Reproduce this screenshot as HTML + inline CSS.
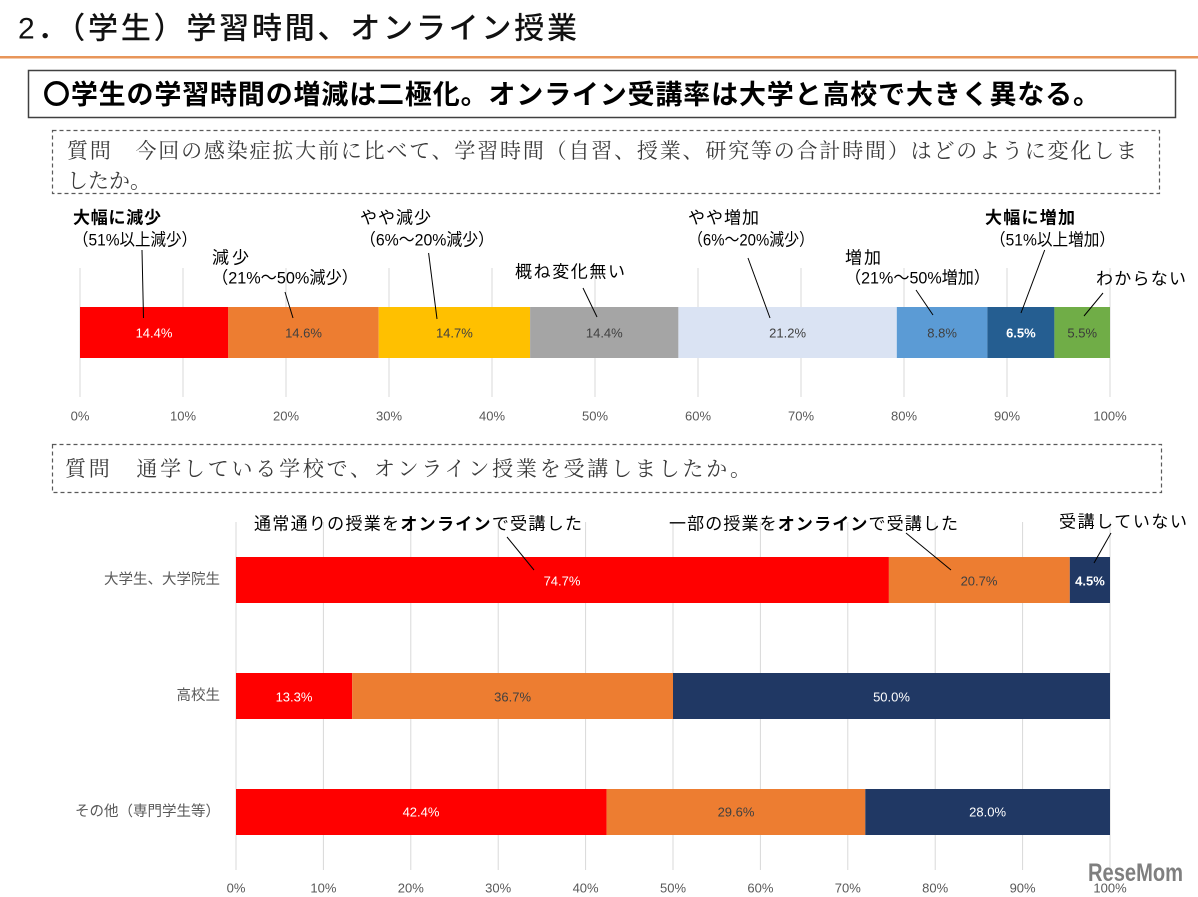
<!DOCTYPE html>
<html><head><meta charset="utf-8"><style>
html,body{margin:0;padding:0;background:#fff;}
svg{display:block;}
.s{font-family:"Liberation Sans","Noto Sans CJK JP",sans-serif;}
.m{font-family:"Liberation Serif","Noto Serif CJK SC",serif;}
</style></head><body>
<svg width="1198" height="897" viewBox="0 0 1198 897" xmlns="http://www.w3.org/2000/svg">
<rect x="0" y="0" width="1198" height="897" fill="#fff"/>
<!-- Title -->
<text class="s" x="18" y="29" font-size="30" font-weight="500" dominant-baseline="central" fill="#111" textLength="559">2．（学生）学習時間、オンライン授業</text>
<rect x="0" y="56" width="1198" height="2.5" fill="#E8965A"/>
<!-- Statement box -->
<rect x="28.5" y="70.5" width="1147" height="47" fill="none" stroke="#404040" stroke-width="1.5"/>
<text class="s" x="43" y="95" font-size="27" font-weight="bold" dominant-baseline="central" fill="#000" textLength="1057">〇学生の学習時間の増減は二極化。オンライン受講率は大学と高校で大きく異なる。</text>
<!-- Q1 dashed box -->
<rect x="52.5" y="130.5" width="1107" height="63" fill="none" stroke="#595959" stroke-width="1.2" stroke-dasharray="4,3"/>
<text class="m" x="67" y="151" font-size="21" dominant-baseline="central" fill="#3a3a3a" textLength="1070">質問　今回の感染症拡大前に比べて、学習時間（自習、授業、研究等の合計時間）はどのように変化しま</text>
<text class="m" x="67" y="181" font-size="21" dominant-baseline="central" fill="#3a3a3a">したか。</text>

<!-- Chart 1 gridlines -->
<g stroke="#D9D9D9" stroke-width="1">
<line x1="80" y1="268" x2="80" y2="397"/><line x1="183" y1="268" x2="183" y2="397"/><line x1="286" y1="268" x2="286" y2="397"/><line x1="389" y1="268" x2="389" y2="397"/><line x1="492" y1="268" x2="492" y2="397"/><line x1="595" y1="268" x2="595" y2="397"/><line x1="698" y1="268" x2="698" y2="397"/><line x1="801" y1="268" x2="801" y2="397"/><line x1="904" y1="268" x2="904" y2="397"/><line x1="1007" y1="268" x2="1007" y2="397"/><line x1="1110" y1="268" x2="1110" y2="397"/>
</g>
<!-- Chart 1 bars -->
<rect x="80" y="307" width="148.3" height="51" fill="#FF0000"/>
<rect x="228.3" y="307" width="150.4" height="51" fill="#ED7D31"/>
<rect x="378.7" y="307" width="151.4" height="51" fill="#FFC000"/>
<rect x="530.1" y="307" width="148.3" height="51" fill="#A5A5A5"/>
<rect x="678.4" y="307" width="218.4" height="51" fill="#DAE3F3"/>
<rect x="896.8" y="307" width="90.6" height="51" fill="#5B9BD5"/>
<rect x="987.4" y="307" width="67" height="51" fill="#255E91"/>
<rect x="1054.4" y="307" width="55.6" height="51" fill="#70AD47"/>
<g class="s" font-size="13" text-anchor="middle" dominant-baseline="central">
<text x="154" y="333" fill="#fff">14.4%</text>
<text x="303.5" y="333" fill="#404040">14.6%</text>
<text x="454.4" y="333" fill="#404040">14.7%</text>
<text x="604.3" y="333" fill="#404040">14.4%</text>
<text x="787.6" y="333" fill="#404040">21.2%</text>
<text x="942.1" y="333" fill="#404040">8.8%</text>
<text x="1020.9" y="333" fill="#fff" font-weight="bold">6.5%</text>
<text x="1082.2" y="333" fill="#3a3a3a">5.5%</text>
</g>
<!-- Chart 1 ticks -->
<g class="s" font-size="13" text-anchor="middle" dominant-baseline="central" fill="#595959">
<text x="80" y="416">0%</text><text x="183" y="416">10%</text><text x="286" y="416">20%</text><text x="389" y="416">30%</text><text x="492" y="416">40%</text><text x="595" y="416">50%</text><text x="698" y="416">60%</text><text x="801" y="416">70%</text><text x="904" y="416">80%</text><text x="1007" y="416">90%</text><text x="1110" y="416">100%</text>
</g>
<!-- Chart 1 leader lines -->
<g stroke="#000" stroke-width="1">
<line x1="142" y1="250" x2="143.5" y2="318"/>
<line x1="285" y1="292" x2="293" y2="318"/>
<line x1="428.6" y1="253" x2="437" y2="319"/>
<line x1="583" y1="288" x2="597" y2="317"/>
<line x1="748" y1="258" x2="770" y2="318"/>
<line x1="916" y1="290" x2="933" y2="315"/>
<line x1="1044.7" y1="250" x2="1021" y2="313"/>
<line x1="1103" y1="293" x2="1084" y2="316"/>
</g>
<!-- Chart 1 annotations -->
<g class="s" font-size="17" dominant-baseline="central" fill="#000">
<text x="73" y="218" font-weight="bold" textLength="88">大幅に減少</text>
<text x="73" y="240" textLength="124" lengthAdjust="spacingAndGlyphs">（51%以上減少）</text>
<text x="212" y="258" textLength="37">減少</text>
<text x="212" y="278" textLength="146" lengthAdjust="spacingAndGlyphs">（21%～50%減少）</text>
<text x="360" y="218" textLength="71">やや減少</text>
<text x="360" y="240" textLength="134" lengthAdjust="spacingAndGlyphs">（6%～20%減少）</text>
<text x="515" y="272" textLength="110">概ね変化無い</text>
<text x="688" y="218" textLength="71">やや増加</text>
<text x="688" y="240" textLength="126" lengthAdjust="spacingAndGlyphs">（6%～20%減少）</text>
<text x="845" y="258" textLength="36">増加</text>
<text x="845" y="278" textLength="145" lengthAdjust="spacingAndGlyphs">（21%～50%増加）</text>
<text x="985" y="218" font-weight="bold" textLength="90">大幅に増加</text>
<text x="990" y="240" textLength="125" lengthAdjust="spacingAndGlyphs">（51%以上増加）</text>
<text x="1096" y="279" textLength="90">わからない</text>
</g>

<!-- Q2 dashed box -->
<rect x="52.5" y="444.5" width="1109" height="48" fill="none" stroke="#595959" stroke-width="1.2" stroke-dasharray="4,3"/>
<text class="m" x="65" y="469" font-size="21" dominant-baseline="central" fill="#3a3a3a" textLength="686">質問　通学している学校で、オンライン授業を受講しましたか。</text>

<!-- Chart 2 gridlines -->
<g stroke="#D9D9D9" stroke-width="1">
<line x1="236" y1="522" x2="236" y2="870"/><line x1="323.4" y1="522" x2="323.4" y2="870"/><line x1="410.8" y1="522" x2="410.8" y2="870"/><line x1="498.2" y1="522" x2="498.2" y2="870"/><line x1="585.6" y1="522" x2="585.6" y2="870"/><line x1="673" y1="522" x2="673" y2="870"/><line x1="760.4" y1="522" x2="760.4" y2="870"/><line x1="847.8" y1="522" x2="847.8" y2="870"/><line x1="935.2" y1="522" x2="935.2" y2="870"/><line x1="1022.6" y1="522" x2="1022.6" y2="870"/><line x1="1110" y1="522" x2="1110" y2="870"/>
</g>
<!-- Chart 2 bars -->
<rect x="236" y="557" width="652.9" height="46" fill="#FF0000"/>
<rect x="888.9" y="557" width="180.9" height="46" fill="#ED7D31"/>
<rect x="1069.8" y="557" width="40.2" height="46" fill="#203864"/>
<rect x="236" y="673" width="116.2" height="46" fill="#FF0000"/>
<rect x="352.2" y="673" width="320.8" height="46" fill="#ED7D31"/>
<rect x="673" y="673" width="437" height="46" fill="#203864"/>
<rect x="236" y="789" width="370.6" height="46" fill="#FF0000"/>
<rect x="606.6" y="789" width="258.7" height="46" fill="#ED7D31"/>
<rect x="865.3" y="789" width="244.7" height="46" fill="#203864"/>
<g class="s" font-size="13" text-anchor="middle" dominant-baseline="central">
<text x="562" y="581" fill="#fff">74.7%</text>
<text x="979" y="581" fill="#404040">20.7%</text>
<text x="1090" y="581" fill="#fff" font-weight="bold">4.5%</text>
<text x="294" y="697" fill="#fff">13.3%</text>
<text x="512.6" y="697" fill="#404040">36.7%</text>
<text x="891.5" y="697" fill="#fff">50.0%</text>
<text x="421" y="812" fill="#fff">42.4%</text>
<text x="736" y="812" fill="#404040">29.6%</text>
<text x="987.6" y="812" fill="#fff">28.0%</text>
</g>
<!-- Chart 2 categories -->
<g class="s" font-size="14.5" text-anchor="end" dominant-baseline="central" fill="#595959">
<text x="220" y="580">大学生、大学院生</text>
<text x="220" y="696">高校生</text>
<text x="220" y="812">その他（専門学生等）</text>
</g>
<!-- Chart 2 ticks -->
<g class="s" font-size="13" text-anchor="middle" dominant-baseline="central" fill="#595959">
<text x="236" y="888">0%</text><text x="323.4" y="888">10%</text><text x="410.8" y="888">20%</text><text x="498.2" y="888">30%</text><text x="585.6" y="888">40%</text><text x="673" y="888">50%</text><text x="760.4" y="888">60%</text><text x="847.8" y="888">70%</text><text x="935.2" y="888">80%</text><text x="1022.6" y="888">90%</text><text x="1110" y="888">100%</text>
</g>
<!-- Chart 2 leader lines -->
<g stroke="#000" stroke-width="1">
<line x1="507" y1="537" x2="534" y2="570"/>
<line x1="906" y1="533" x2="951" y2="570"/>
<line x1="1111" y1="533" x2="1094" y2="563"/>
</g>
<!-- Chart 2 annotations -->
<g class="s" font-size="17" dominant-baseline="central" fill="#000">
<text x="254" y="524" textLength="328">通常通りの授業を<tspan font-weight="bold">オンライン</tspan>で受講した</text>
<text x="669" y="524" textLength="289">一部の授業を<tspan font-weight="bold">オンライン</tspan>で受講した</text>
<text x="1059" y="522" textLength="128">受講していない</text>
</g>
<!-- Watermark -->
<text class="s" x="1088" y="873" font-size="25" font-weight="bold" dominant-baseline="central" fill="#7f7f7f" textLength="95" lengthAdjust="spacingAndGlyphs">ReseMom</text>
</svg>
</body></html>
